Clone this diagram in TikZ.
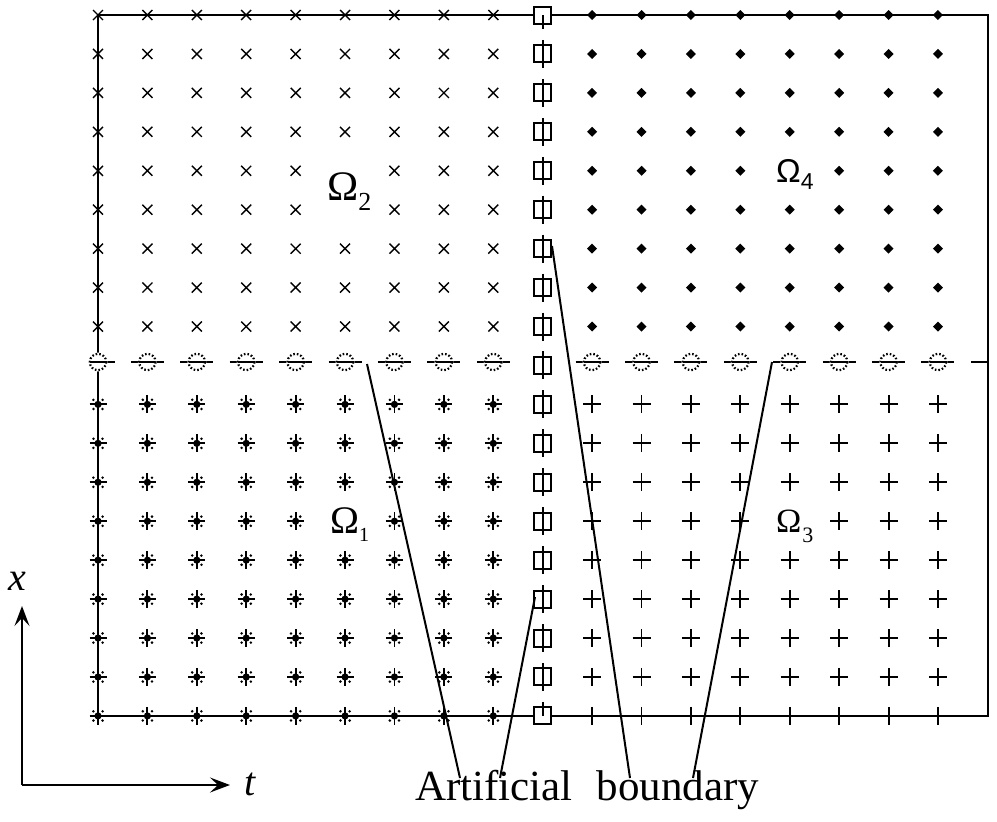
\documentclass[tikz,border=0pt]{standalone}
\usepackage{fontspec}
\setmainfont{Liberation Serif}
\newfontfamily\sansf{Liberation Sans}
\usetikzlibrary{arrows.meta}
\tikzset{
  crossmk/.pic={\draw[line width=1.4pt] (-5,-5)--(5,5) (-5,5)--(5,-5);},
  diamk/.pic={\fill (-5,0)--(0,-5)--(5,0)--(0,5)--cycle;},
  plusmk/.pic={\draw[line width=1.9pt] (-9,0)--(9,0) (0,-9)--(0,9);},
  astmk/.pic={\draw[line width=1.9pt] (-8.5,0)--(8.5,0) (0,-9)--(0,9);
     \fill (0,0) circle (3.6);
     \foreach \a in {45,135,225,315}{\fill (\a:6.5) circle (1.4);}},
  circmk/.pic={\fill[white] (0,0) circle (9.5);
     \draw[line width=2.2pt,dash pattern=on 1.6pt off 2pt] (0,0) circle (8.2);
     \draw[line width=1.8pt] (-8,0)--(8,0);},
  sqmk/.pic={\draw[line width=2pt,fill=white] (-8.5,-8.5) rectangle (8.5,8.5);},
  bline/.style={line width=2pt},
  omlab/.style={anchor=base west,inner sep=0pt},
}
\begin{document}
\begin{tikzpicture}[x=1pt,y=-1pt]
\useasboundingbox (0,0) rectangle (997,822);
% frame
\draw[bline] (98,15) rectangle (988,716);
% horizontal artificial boundary (dashes centred on the grid columns)
\foreach \i in {0,...,18}{
  \ifnum\i=9\else
    \pgfmathsetmacro{\xl}{max(98,98+\i*49.41-16.5)}
    \pgfmathsetmacro{\xr}{min(988,98+\i*49.41+16.5)}
    \draw[bline] (\xl,362) -- (\xr,362);
  \fi
}
% Omega_2 : crosses
\foreach \i in {0,...,8}\foreach \j in {0,...,8}{
  \def\doit{1}
  \ifnum\i=5 \ifnum\j=4 \def\doit{0}\fi \ifnum\j=5 \def\doit{0}\fi \fi
  \ifnum\doit=1 \pic at (98+\i*49.41,15+\j*38.94) {crossmk};\fi
}
% Omega_4 : diamonds
\foreach \i in {10,...,17}\foreach \j in {0,...,8}{
  \def\doit{1}
  \ifnum\i=14 \ifnum\j=4 \def\doit{0}\fi \fi
  \ifnum\doit=1 \pic at (98+\i*49.41,15+\j*38.94) {diamk};\fi
}
% Omega_1 : asterisks
\foreach \i in {0,...,8}\foreach \j in {10,...,18}{
  \def\doit{1}
  \ifnum\i=5 \ifnum\j=13 \def\doit{0}\fi \fi
  \ifnum\doit=1 \pic at (98+\i*49.41,15+\j*38.94) {astmk};\fi
}
% Omega_3 : plus
\foreach \i in {10,...,17}\foreach \j in {10,...,18}{
  \def\doit{1}
  \ifnum\i=14 \ifnum\j=13 \def\doit{0}\fi \fi
  \ifnum\doit=1 \pic at (98+\i*49.41,15+\j*38.94) {plusmk};\fi
}
% interface row: circles
\foreach \i in {0,...,8,10,11,...,17}
  \pic at (98+\i*49.41,362) {circmk};
% interface column: squares
\foreach \j in {0,...,18}
  \pic at (542.7,15+\j*38.94) {sqmk};
% vertical artificial boundary (dashes centred on the grid rows)
\foreach \j in {0,...,18}{
  \pgfmathsetmacro{\yt}{max(15,15+\j*38.94-14)}
  \pgfmathsetmacro{\yb}{min(716,15+\j*38.94+14)}
  \draw[bline] (542.7,\yt) -- (542.7,\yb);
}
% region labels
\node[omlab] (om2) at (327,200) {\fontsize{42}{42}\selectfont Ω\raisebox{-10pt}{\fontsize{26}{26}\selectfont 2}};
\node[omlab] (om4) at (776,182) {\sansf\fontsize{33}{33}\selectfont Ω\raisebox{-7pt}{\fontsize{23}{23}\selectfont 4}};
\node[omlab] (om1) at (330,533) {\fontsize{39}{39}\selectfont Ω\raisebox{-8pt}{\fontsize{20}{20}\selectfont 1}};
\node[omlab] (om3) at (776,532) {\fontsize{34}{34}\selectfont Ω\kern1pt\raisebox{-10pt}{\fontsize{22}{22}\selectfont 3}};
% caption and leaders
\node[anchor=base west,inner sep=0pt] (ab) at (415,800) {\fontsize{43}{50}\selectfont Artificial\hspace{24pt}boundary};
\coordinate (l1s) at (367,364);
\coordinate (l2s) at (535,597);
\coordinate (l3s) at (552,246);
\coordinate (l4s) at (772,362);
\coordinate (l1e) at (460,778);
\coordinate (l2e) at (500,778);
\coordinate (l3e) at (630,778);
\coordinate (l4e) at (693,778);
\draw[bline] (l1s) -- (l1e);
\draw[bline] (l2s) -- (l2e);
\draw[bline] (l3s) -- (l3e);
\draw[bline] (l4s) -- (l4e);
% axes
\coordinate (o) at (22,785);
\coordinate (xtip) at (22,606);
\coordinate (ttip) at (230,785);
\draw[bline,-{Stealth[length=20pt,width=15pt,inset=8pt]}] (o) -- (xtip);
\draw[bline,-{Stealth[length=20pt,width=15pt,inset=8pt]}] (o) -- (ttip);
\node[anchor=base west,inner sep=0pt] (xlab) at (8,590) {\fontsize{40}{40}\selectfont\itshape x};
\node[anchor=base west,inner sep=0pt] (tlab) at (244,795) {\fontsize{40}{40}\selectfont\itshape t};
\end{tikzpicture}
\end{document}
